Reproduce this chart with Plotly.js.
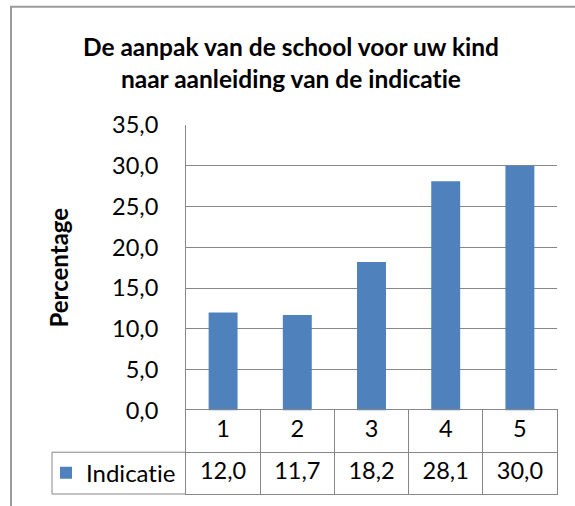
<!DOCTYPE html>
<html>
<head>
<meta charset="utf-8">
<script src="https://cdn.plot.ly/plotly-3.0.1.min.js"></script>
<style>html,body{margin:0;padding:0;background:#fff;}#chart{width:575px;height:506px;}
svg text{font-variant-ligatures:none;font-feature-settings:"liga" 0, "clig" 0;}</style>
</head>
<body>
<div id="chart"></div>
<script>
// ---- data ----
const categories = ['1', '2', '3', '4', '5'];
const values = [12.0, 11.7, 18.2, 28.1, 30.0];
const seriesName = 'Indicatie';
const chartTitle = 'De aanpak van de school voor uw kind<br>naar aanleiding van de indicatie';
const yTitle = 'Percentage';

// ---- layout constants (pixels) ----
const W = 575, H = 506;
const L = 186, R = 18, T = 125, B = 10;
const plotW = W - L - R, plotH = H - T - B;
const tableH = 84;
const d = tableH / plotH;             // table domain height (paper)
const px2x = p => (p - L) / plotW;    // pixel -> paper x
const py2y = p => (H - B - p) / plotH; // pixel -> paper y

const FONT = 'Lato, "Open Sans", sans-serif';
const GRID = '#878787';
const BAR = '#4F81BD';

const fmt = v => v.toFixed(1).replace('.', ',');

const bars = {
  type: 'bar', x: categories, y: values, name: seriesName,
  marker: {color: BAR}, xaxis: 'x', yaxis: 'y', hoverinfo: 'skip', showlegend: true
};

const tableText = {
  type: 'scatter', mode: 'text', xaxis: 'x2', yaxis: 'y2',
  x: categories.concat(categories),
  y: categories.map(() => 1.5).concat(values.map(() => 0.5)),
  text: categories.concat(values.map(fmt)),
  textposition: 'middle center',
  textfont: {family: FONT, size: 23.5, color: '#000'},
  cliponaxis: false, hoverinfo: 'skip', showlegend: false
};

const layout = {
  width: W, height: H,
  margin: {l: L, r: R, t: T, b: B},
  paper_bgcolor: '#fff', plot_bgcolor: '#fff',
  separators: ', ',
  bargap: 0.61,
  font: {family: FONT, color: '#000'},
  title: {
    text: chartTitle, xref: 'container', yref: 'container',
    x: 0.506, xanchor: 'center', y: 1 - 56 / H, yanchor: 'middle',
    font: {family: FONT, size: 24.5, weight: 700, color: '#000'}
  },
  xaxis: {
    type: 'category', anchor: 'y', domain: [0, 1],
    showticklabels: false, showgrid: false, showline: false, zeroline: false, ticks: '',
    fixedrange: true
  },
  yaxis: {
    domain: [d, 1], anchor: 'x', range: [0, 35], dtick: 5, tick0: 0, tickformat: '.1f',
    showgrid: true, gridcolor: GRID, gridwidth: 1,
    showline: true, linecolor: GRID, linewidth: 1, zeroline: false, ticks: '',
    ticklabelstandoff: 22,
    tickfont: {family: FONT, size: 23.5, color: '#000'},
    title: {text: yTitle, standoff: 36, font: {family: FONT, size: 24, weight: 700, color: '#000'}},
    fixedrange: true
  },
  xaxis2: {
    type: 'category', anchor: 'y2', matches: 'x', domain: [0, 1],
    showticklabels: false, tickson: 'boundaries', ticks: '',
    showgrid: true, gridcolor: GRID, gridwidth: 1,
    showline: true, mirror: true, linecolor: GRID, linewidth: 1, zeroline: false,
    fixedrange: true
  },
  yaxis2: {
    domain: [0, d], anchor: 'x2', range: [0, 2], dtick: 1,
    showticklabels: false, showgrid: true, gridcolor: GRID, gridwidth: 1,
    showline: true, mirror: true, linecolor: GRID, linewidth: 1, zeroline: false, ticks: '',
    fixedrange: true
  },
  showlegend: true,
  legend: {
    x: px2x(46), xanchor: 'left', y: d / 4, yanchor: 'middle',
    xref: 'paper', yref: 'paper',
    bgcolor: 'rgba(0,0,0,0)', borderwidth: 0,
    font: {family: FONT, size: 24, color: '#000'}
  },
  shapes: [
    // legend cell of the data table
    {type: 'line', xref: 'paper', yref: 'paper', x0: px2x(52), x1: 0, y0: d / 2, y1: d / 2, line: {color: GRID, width: 1}},
    {type: 'line', xref: 'paper', yref: 'paper', x0: px2x(52), x1: 0, y0: 0, y1: 0, line: {color: GRID, width: 1}},
    {type: 'line', xref: 'paper', yref: 'paper', x0: px2x(52), x1: px2x(52), y0: 0, y1: d / 2, line: {color: GRID, width: 1}},
    // chart frame
    {type: 'rect', xref: 'paper', yref: 'paper', x0: px2x(11), x1: px2x(600), y0: py2y(6), y1: py2y(540), line: {color: '#9c9c9c', width: 2}, fillcolor: 'rgba(0,0,0,0)'}
  ]
};

Plotly.newPlot('chart', [bars, tableText], layout, {displayModeBar: false, staticPlot: true});
</script>
</body>
</html>
